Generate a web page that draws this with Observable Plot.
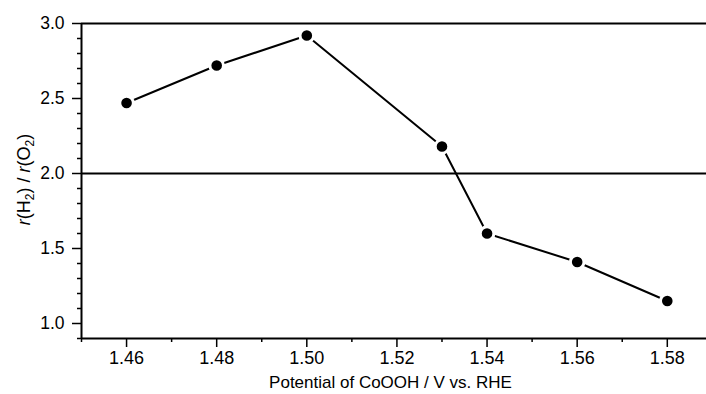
<!DOCTYPE html>
<html>
<head>
<meta charset="utf-8">
<script src="https://cdn.jsdelivr.net/npm/d3@7"></script>
<script src="https://cdn.jsdelivr.net/npm/@observablehq/plot@0.6"></script>
<style>
  html, body { margin: 0; padding: 0; background: #fff; }
  #chart svg { display: block; }
  #chart svg g[aria-label="x-axis tick label"] text { font-size: 18px !important; }
  #chart svg g[aria-label="y-axis tick label"] text { font-size: 17.5px !important; }
</style>
</head>
<body>
<div id="chart"></div>
<script>
const potentials = [1.46, 1.48, 1.50, 1.53, 1.54, 1.56, 1.58];
const ratios = [2.47, 2.72, 2.92, 2.18, 1.60, 1.41, 1.15];
const xMajorTicks = [1.46, 1.48, 1.50, 1.52, 1.54, 1.56, 1.58];
const xMinorTicks = [1.45, 1.47, 1.49, 1.51, 1.53, 1.55, 1.57];
const yMajorTicks = [1.0, 1.5, 2.0, 2.5, 3.0];
const yMinorTicks = [0.9, 1.1, 1.2, 1.3, 1.4, 1.6, 1.7, 1.8, 1.9, 2.1, 2.2, 2.3, 2.4, 2.6, 2.7, 2.8, 2.9];
const refLines = [2.0, 3.0];
const xLabel = "Potential of CoOOH / V vs. RHE";

const data = potentials.map((p, i) => ({p, r: ratios[i]}));

const plot = Plot.plot({
  width: 706,
  height: 394,
  marginLeft: 81,
  marginRight: 0,
  marginTop: 23,
  marginBottom: 56,
  style: {fontFamily: "Arial, 'Liberation Sans', sans-serif", fontSize: "17px", color: "#000", background: "#fff"},
  x: {domain: [1.45, 1.5887]},
  y: {domain: [0.9, 3.0]},
  marks: [
    Plot.axisX({ticks: xMajorTicks, tickFormat: d3.format(".2f"), tickSize: 9, tickPadding: 4, fontSize: 18, label: null, stroke: "#000", strokeWidth: 1.5}),
    Plot.axisX({ticks: xMinorTicks, tickFormat: () => "", tickSize: 4, label: null, stroke: "#000", strokeWidth: 1.5}),
    Plot.axisY({ticks: yMajorTicks, tickFormat: d3.format(".1f"), tickSize: 9, tickPadding: 8, fontSize: 17.5, label: null, stroke: "#000", strokeWidth: 1.5}),
    Plot.axisY({ticks: yMinorTicks, tickFormat: () => "", tickSize: 4, label: null, stroke: "#000", strokeWidth: 1.5}),
    Plot.ruleY(refLines, {stroke: "#000", strokeWidth: 2}),
    Plot.ruleY([0.9], {stroke: "#000", strokeWidth: 2}),
    Plot.ruleX([1.45], {stroke: "#000", strokeWidth: 2}),
    Plot.line(data, {x: "p", y: "r", stroke: "#000", strokeWidth: 2}),
    Plot.dot(data, {x: "p", y: "r", r: 6.8, fill: "#000", stroke: "#fff", strokeWidth: 3})
  ]
});

const svg = d3.select(plot);
const yS = plot.scale("y");
const xS = plot.scale("x");
const midY = (yS.apply(0.9) + yS.apply(3.0)) / 2;
const midX = (xS.apply(1.45) + xS.apply(1.5887)) / 2;

const yl = svg.append("text")
  .attr("transform", `translate(30,${midY - 1}) rotate(-90)`)
  .attr("text-anchor", "middle")
  .attr("font-size", 18)
  .attr("fill", "#000");
yl.append("tspan").attr("font-style", "italic").text("r");
yl.append("tspan").text("(H");
yl.append("tspan").attr("font-size", 12).attr("dy", 4).text("2");
yl.append("tspan").attr("dy", -4).text(") / ");
yl.append("tspan").attr("font-style", "italic").text("r");
yl.append("tspan").text("(O");
yl.append("tspan").attr("font-size", 12).attr("dy", 4).text("2");
yl.append("tspan").attr("dy", -4).text(")");

svg.append("text")
  .attr("x", midX - 3)
  .attr("y", 388)
  .attr("text-anchor", "middle")
  .attr("font-size", 17)
  .attr("fill", "#000")
  .text(xLabel);

document.getElementById("chart").appendChild(plot);
</script>
</body>
</html>
